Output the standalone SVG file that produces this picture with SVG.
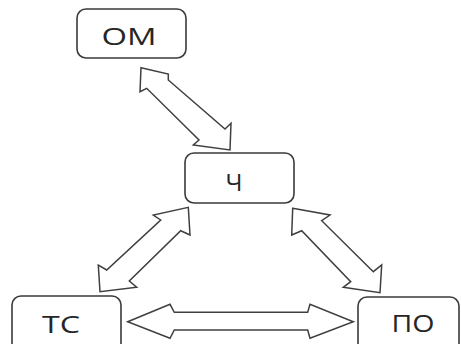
<svg xmlns="http://www.w3.org/2000/svg" width="461" height="344" viewBox="0 0 461 344">
  <style>
    .box { fill: #ffffff; stroke: #3a3a3a; stroke-width: 1.6; }
    .lbl { font-family: "Open Sans", "Liberation Sans", sans-serif; font-size: 23px; fill: #262626; text-anchor: middle; }
    .arrow { fill: #ffffff; stroke: #3f3f3f; stroke-width: 1.5; stroke-linejoin: miter; }
  </style>
  <rect width="461" height="344" fill="#ffffff"/>

  <!-- double-headed block arrows -->
  <g id="connectors">
    <polygon class="arrow" points="141,67.7 168.3,74 168.3,80 225,129 231,123.3 230,150 193.3,145 199,140 146.7,88.3 140,91.7"/>
    <polygon class="arrow" points="188.3,207.3 190,235 180.7,230.7 129.3,281 136.7,287.3 100,291.7 98.3,265 106.7,270 160.7,220 153.3,215"/>
    <polygon class="arrow" points="292.7,208.3 330,215 321.7,220.7 373.3,271.7 381.7,265 380,292.7 343.3,287.3 350.7,281.7 301.7,230.7 291.7,235"/>
    <polygon class="arrow" points="127.7,321.7 170,304.3 174.3,312.3 307.7,312.3 310,304.3 353.3,321.7 310,338.3 307.7,330 174.3,330 170,338.3"/>
  </g>

  <g id="node-om">
    <rect class="box" x="77" y="9" width="109" height="49" rx="9"/>
    <text class="lbl" x="129" y="45" textLength="55" lengthAdjust="spacingAndGlyphs">ОМ</text>
  </g>
  <g id="node-ch">
    <rect class="box" x="185" y="153" width="109" height="50" rx="9"/>
    <text class="lbl" x="234" y="190.5" textLength="17" lengthAdjust="spacingAndGlyphs">Ч</text>
  </g>
  <g id="node-ts">
    <rect class="box" x="12" y="296" width="109" height="56" rx="9"/>
    <text class="lbl" x="61" y="333" textLength="38" lengthAdjust="spacingAndGlyphs">ТС</text>
  </g>
  <g id="node-po">
    <rect class="box" x="358" y="297" width="101" height="55" rx="9"/>
    <text class="lbl" x="413" y="331.5" textLength="43" lengthAdjust="spacingAndGlyphs">ПО</text>
  </g>
</svg>
